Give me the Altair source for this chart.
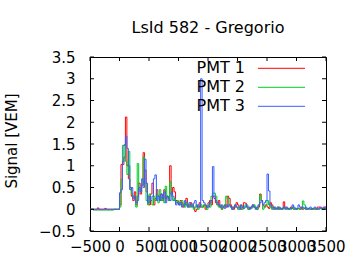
import altair as alt
import pandas as pd

# Time bins (ns), 25 ns wide, from -500 to 3500
t0 = -500
bin_w = 25

pmt1 = [0, 0, 0, 0, 0, 0.03, 0, 0, 0, 0, 0.02, 0, 0, 0, 0, 0, 0, 0, 0, 0,
        0.1, 1.03, 1.03, 1.2, 2.12, 1.0, 0.7, 0.5, 0.3, 0.2, 0.4, 0.1, 0.3, 0.6, 0.35, 0.55, 1.3, 0.9, 0.4, 0.3,
        0.1, 0.35, 0.6, 0.1, 0.25, 0.45, 0.3, 0.2, 0.35, 0.2, 0.45, 0.25, 0.3, 0.2, 1.0, 0.35, 0.5, 0.4, 0.2, 0.15,
        0.1, 0.2, 0.15, 0.05, 0.1, 0.25, 0.1, 0.05, 0.15, 0.1, 0.05, -0.05, 0.0, 0.05, 0.15, 0.05, 0.05, 0.1, 0.0, 0.05,
        0.15, 0.2, 0.1, 0.3, 0.25, 0.15, 0.1, 0.2, 0.05, 0.0, 0.05, 0.1, 0.05, 0.3, 0.25, 0.1, 0.05, 0.0, 0.05, 0.15,
        0.1, 0.05, 0.0, 0.05, 0.15, 0.14, 0.05, 0.0, 0.02, 0.05, 0.1, 0.05, 0.02, 0.0, 0.05, 0.35, 0.2, 0.1, 0.05, 0.1,
        0.05, 0.02, 0.15, 0.1, 0.05, 0.0, 0.02, 0.05, 0.0, 0.02, 0.0, 0.17, 0.05, 0.02, 0.0, 0.02, 0.05, 0.02, 0.0, 0.02,
        0.0, 0.02, 0.0, 0.05, 0.0, 0.02, 0.0, 0.0, 0.02, 0.0, 0.0, 0.02, 0.0, 0.0, 0.05, 0.05, 0.02, 0.0, 0.05, 0.05]

pmt2 = [0, 0, -0.02, -0.02, -0.02, -0.02, -0.02, -0.02, -0.02, -0.02, -0.02, -0.02, -0.02, -0.02, -0.02, -0.02, 0, 0, 0, 0,
        0.05, 0.69, 1.47, 1.47, 1.1, 0.8, 1.33, 0.45, 0.35, 0.3, 0.25, 0.05, 1.05, 0.45, 0.4, 0.55, 1.2, 0.6, 0.2, 0.1,
        0.35, 0.2, 0.1, 0.3, 0.2, 0.35, 0.15, 0.45, 0.2, 0.3, 0.15, 0.53, 0.3, 0.2, 0.63, 0.3, 0.2, 0.25, 0.15, 0.2,
        0.15, 0.1, 0.2, 0.1, 0.05, 0.15, 0.05, 0.1, 0.05, 0.1, 0.0, 0.05, 0.1, 0.0, 0.05, 0.1, 0.05, 0.1, 0.05, 0.0,
        0.1, 0.05, 0.3, 0.37, 0.37, 0.3, 0.1, 0.05, 0.1, 0.0, 0.05, 0.1, 0.3, 0.25, 0.1, 0.05, 0.0, 0.05, 0.1, 0.05,
        0.0, 0.05, 0.1, 0.0, 0.05, 0.1, 0.05, 0.0, 0.05, 0.02, 0.05, 0.1, 0.05, 0.0, 0.1, 0.33, 0.2, 0.0, 0.05, 0.1,
        0.2, 0.1, 0.05, 0.0, 0.05, 0.02, 0.0, 0.05, 0.0, 0.02, 0.0, 0.05, 0.02, 0.0, 0.0, 0.02, 0.0, 0.05, 0.0, 0.02,
        0.0, 0.02, 0.0, 0.0, 0.19, 0.1, 0.0, 0.02, 0.0, 0.0, 0.02, 0.0, 0.0, 0.02, 0.0, 0.0, 0.02, 0.0, 0.0, 0.02]

pmt3 = [0] * 20 + [
        0.38, 0.45, 1.1, 1.48, 1.68, 1.4, 1.0, 0.45, 0.5, 0.25, 0.3, 0.15, 0.2, 0.5, 0.4, 0.7, 0.5, 1.15, 0.6, 0.15,
        0.3, 0.2, 0.3, 0.7, 0.79, 0.2, 0.3, 0.2, 0.35, 0.25, 0.4, 0.15, 0.3, 0.25, 0.2, 0.4, 0.3, 0.2, 0.1, 0.15,
        0.1, 0.15, 0.05, 0.1, 0.2, 0.1, 0.05, 0.15, 0.1, 0.05, 0.14, 0.2, 0.05, 0.1, 0.05, 3.0, 0.2, 0.15, 0.1, 0.05,
        0.05, 0.15, 0.2, 0.98, 0.3, 0.2, 0.15, 0.1, 0.05, 0.1, 0.05, 0.02, 0.1, 0.05, 0.1, 0.05, 0.0, 0.05, 0.1, 0.05,
        0.05, 0.0, 0.1, 0.05, 0.02, 0.05, 0.1, 0.05, 0.0, 0.05, 0.1, 0.05, 0.0, 0.05, 0.1, 0.15, 0.2, 0.1, 0.15, 0.2,
        0.81, 0.42, 0.1, 0.05, 0.0, 0.05, 0.02, 0.0, 0.05, 0.0, 0.02, 0.05, 0.0, 0.05, 0.02, 0.0, 0.02, 0.1, 0.05, 0.0,
        0.02, 0.1, 0.05, 0.02, 0.05, 0.02, 0.05, 0.0, 0.02, 0.05, 0.0, 0.02, 0.05, 0.02, 0.0, 0.02, 0.05, 0.02, 0.0, 0.05]

series_names = ["PMT 1", "PMT 2", "PMT 3"]
series_colors = ["#ff0000", "#00cc22", "#3a5cff"]
x_ticks = [-500, 0, 500, 1000, 1500, 2000, 2500, 3000, 3500]
y_ticks = [-0.5, 0, 0.5, 1, 1.5, 2, 2.5, 3, 3.5]
title_text = "LsId 582 - Gregorio"
y_title = "Signal [VEM]"

rows = []
for name, vals in zip(series_names, [pmt1, pmt2, pmt3]):
    for i, v in enumerate(vals):
        rows.append({"t": t0 + i * bin_w, "v": v, "s": name})
    rows.append({"t": t0 + len(vals) * bin_w, "v": vals[-1], "s": name})
df = pd.DataFrame(rows)

W, H = 236, 174
FONT = "DejaVu Sans"

xs = alt.Scale(domain=[-500, 3500], nice=False, zero=False)
ys = alt.Scale(domain=[-0.5, 3.5], nice=False, zero=False)

common_axis = dict(title=None, ticks=False, domain=False, grid=False, labelFont=FONT, labelFontSize=15,
                   labelColor="black", labelOverlap=False, labelFlush=False, labelBound=False)
x_axis = alt.Axis(values=x_ticks, format="d", labelPadding=8, **common_axis)
y_axis = alt.Axis(values=y_ticks, format=".1~f", labelPadding=15, **common_axis)

lines = alt.Chart(df).mark_line(interpolate="step-after", strokeWidth=1).encode(
    x=alt.X("t:Q", scale=xs, axis=x_axis),
    y=alt.Y("v:Q", scale=ys, axis=y_axis),
    color=alt.Color("s:N", scale=alt.Scale(domain=series_names, range=series_colors), legend=None),
)

xt = pd.DataFrame({"t": x_ticks})
yt = pd.DataFrame({"v": y_ticks})
tick_style = dict(color="black", strokeWidth=1)
xt_bot = alt.Chart(xt).mark_rule(**tick_style).encode(
    x=alt.X("t:Q", scale=xs, axis=x_axis), y=alt.value(H), y2=alt.value(H - 4))
xt_top = alt.Chart(xt).mark_rule(**tick_style).encode(
    x=alt.X("t:Q", scale=xs, axis=x_axis), y=alt.value(0), y2=alt.value(4))
yt_left = alt.Chart(yt).mark_rule(**tick_style).encode(
    y=alt.Y("v:Q", scale=ys, axis=y_axis), x=alt.value(0), x2=alt.value(4))
yt_right = alt.Chart(yt).mark_rule(**tick_style).encode(
    y=alt.Y("v:Q", scale=ys, axis=y_axis), x=alt.value(W), x2=alt.value(W - 4))

layers = [lines, xt_bot, xt_top, yt_left, yt_right]

# legend (gnuplot style: label on the left, sample on the right)
leg_y = [11.3, 30.3, 49.3]
for name, col, yy in zip(series_names, series_colors, leg_y):
    layers.append(alt.Chart(pd.DataFrame({"n": [name]})).mark_text(
        align="right", baseline="middle", font=FONT, fontSize=16, color="black"
    ).encode(text="n:N", x=alt.value(155), y=alt.value(yy)))
    layers.append(alt.Chart(pd.DataFrame({"n": [name]})).mark_rule(color=col, strokeWidth=1).encode(
        x=alt.value(168), x2=alt.value(215), y=alt.value(yy)))

# y axis title
layers.append(alt.Chart(pd.DataFrame({"n": [y_title]})).mark_text(
    angle=270, align="center", baseline="middle", font=FONT, fontSize=15, color="black"
).encode(text="n:N", x=alt.value(-78), y=alt.value(H / 2 - 3)))

# chart title
layers.append(alt.Chart(pd.DataFrame({"n": [title_text]})).mark_text(
    align="center", baseline="alphabetic", font=FONT, fontSize=16, color="black"
).encode(text="n:N", x=alt.value(W / 2), y=alt.value(-24)))

chart = alt.layer(*layers).properties(
    width=W, height=H,
    background="white",
    autosize=alt.AutoSizeParams(type="none"),
    padding={"left": 90, "top": 57, "right": 34, "bottom": 39},
).configure_view(stroke="black", strokeWidth=1)

chart.save("out.html", embed_options={"renderer": "svg", "actions": False})
